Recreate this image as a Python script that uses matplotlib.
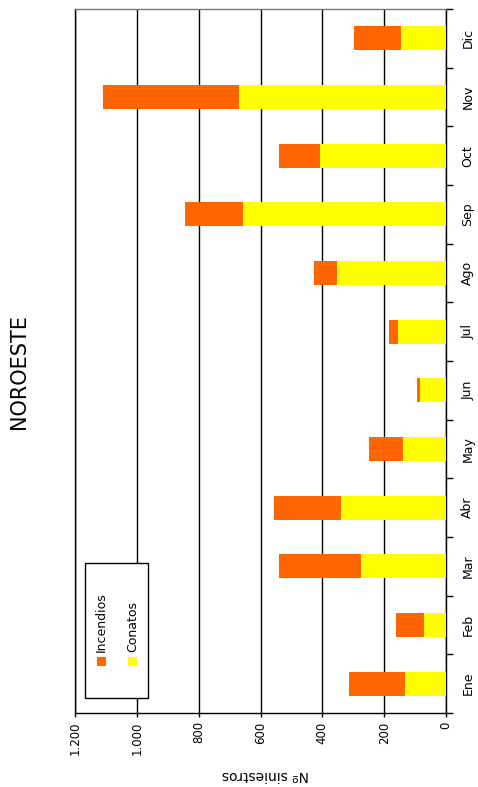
import matplotlib
matplotlib.use("Agg")
import numpy as np
from matplotlib import pyplot as plt
from matplotlib.patches import Rectangle
from matplotlib.ticker import FuncFormatter, FixedLocator

meses = ["Ene", "Feb", "Mar", "Abr", "May", "Jun",
         "Jul", "Ago", "Sep", "Oct", "Nov", "Dic"]
conatos = [133, 71, 275, 340, 139, 84, 155, 352, 657, 407, 670, 145]
incendios = [181, 91, 265, 217, 110, 10, 29, 75, 188, 133, 440, 152]
titulo = "NOROESTE"

naranja = "#FF6600"
amarillo = "#FFFF00"

fig = plt.figure(figsize=(4.78, 7.87), dpi=100)
ax = fig.add_axes([75 / 478, 74 / 787, 371 / 478, 704 / 787])

pos = np.arange(len(meses))
ax.barh(pos, conatos, height=0.41, color=amarillo, zorder=3)
ax.barh(pos, incendios, left=conatos, height=0.41, color=naranja, zorder=3)

ax.set_xlim(1200, 0)
ax.set_ylim(-0.5, len(meses) - 0.5)

# value axis (bottom after rotation)
ax.set_xticks(np.arange(0, 1201, 200))
ax.xaxis.set_major_formatter(FuncFormatter(lambda v, p: f"{int(v):,}".replace(",", ".")))
ax.tick_params(axis="x", direction="out", length=3, width=1, labelsize=8.5,
               labelrotation=90, pad=3)
ax.xaxis.grid(True, color="black", lw=1, zorder=1)

# months on the right side
ax.yaxis.tick_right()
ax.set_yticks(pos)
ax.set_yticklabels(meses, rotation=90, va="center")
ax.yaxis.set_minor_locator(FixedLocator(np.arange(-0.5, len(meses), 1)))
ax.tick_params(axis="y", which="major", length=0, labelsize=9, pad=11)
ax.tick_params(axis="y", which="minor", length=5, width=1, direction="out")

for s in ax.spines.values():
    s.set_color("black")
    s.set_linewidth(1)
ax.spines["top"].set_color("#777777")

fig.text(265 / 478, 1 - 775 / 787, "Nº siniestros", rotation=180,
         ha="center", va="center", fontsize=10)
fig.text(19 / 478, 1 - 372 / 787, titulo, rotation=90,
         ha="center", va="center", fontsize=15)

# rotated legend drawn by hand
def ax_x(px):
    return (px - 75) / 371

def ax_y(py):
    return (713 - py) / 704

ax.add_patch(Rectangle((ax_x(85), ax_y(698)), ax_x(148) - ax_x(85), ax_y(563) - ax_y(698),
                       transform=ax.transAxes, facecolor="white", edgecolor="black",
                       lw=1, zorder=5))
for cx, col, lab in [(101.5, naranja, "Incendios"), (132.5, amarillo, "Conatos")]:
    ax.add_patch(Rectangle((ax_x(cx - 4.2), ax_y(665.5)), ax_x(cx + 4.2) - ax_x(cx - 4.2),
                           ax_y(657) - ax_y(665.5), transform=ax.transAxes,
                           facecolor=col, edgecolor="none", zorder=6))
    ax.text(ax_x(cx), ax_y(652), lab, transform=ax.transAxes, rotation=90,
            ha="center", va="bottom", fontsize=9, zorder=7)

fig.savefig("out.png", dpi=100)
